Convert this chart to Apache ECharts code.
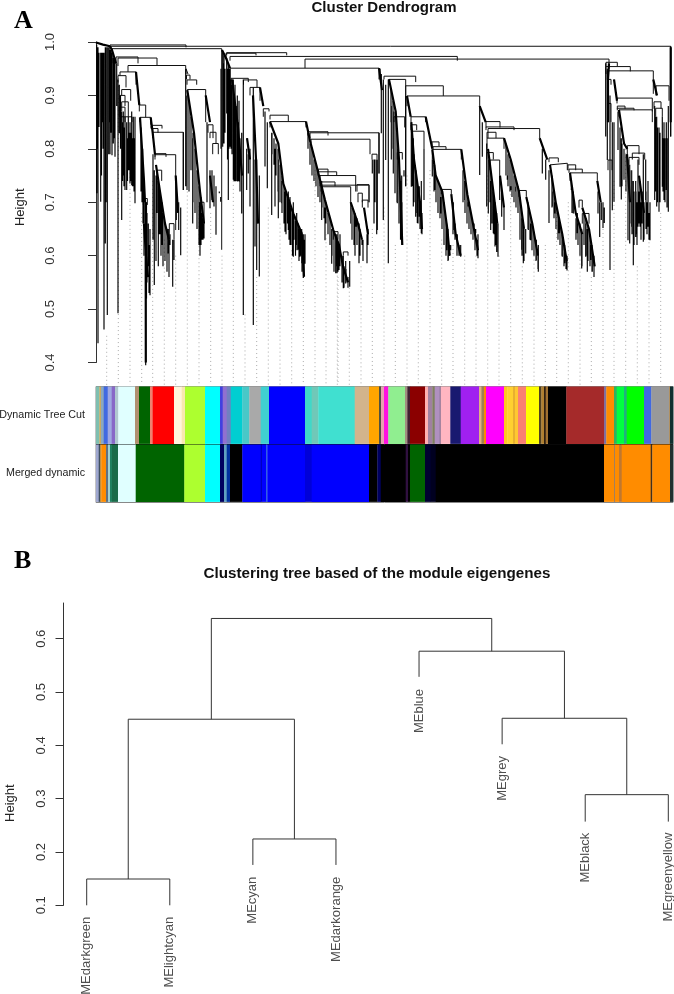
<!DOCTYPE html>
<html><head><meta charset="utf-8">
<style>html,body{margin:0;padding:0;background:#fff}#c{width:674px;height:994px}</style>
<script src="https://cdn.jsdelivr.net/npm/echarts@6/dist/echarts.min.js"></script>
</head><body><div id="c"></div>
<script>
const FONT = '"Liberation Sans", Arial, sans-serif';
// ---- Panel A: y axis ticks
const ticksA = [0.4,0.5,0.6,0.7,0.8,0.9,1.0];
const guideBottom = 0.358;
// gene-order position of each guide line and the height where it meets the tree
const guideX = [10.7,22.3,34,45.7,56.7,68.3,79.7,91.3,103,114.7,126,137.3,149,160.7,172.3,184,195.7,207.3,219,230,241.3,
 242,253.3,265,276.3,288,299.3,311,322.3,334,345.7,357,368.7,380,391.7,403,414.7,426.3,438,449.3,460.7,472.3,484,495.3,507,518,529.7,541.3,553,564.7];
const guideTop = [.45,.94,.80,.68,.74,.63,.60,.72,.70,.68,.60,.74,.49,.56,.69,.66,.61,.56,.76,.64,.57,
 .56,.54,.58,.65,.69,.62,.75,.64,.76,.63,.62,.60,.60,.75,.60,.73,.58,.60,.62,.68,.70,.60,.56,.65,.74,.80,.58,.64,.68];
// merges of the tree: [left, right, height, left leg end, right leg end]
const topBrackets = [
 [14,574.7,.992,.985,.823],[14,90,.9945,.99,.99],[16,125.7,.9875,.96,.611],[22,61,.970,.955,.956],[20,42,.972,.96,.96],
 [32,89.7,.956,.944,.95],[24,40,.944,.937,.92],[130.7,190.7,.980,.975,.975],[130,160,.979,.97,.975],[134,361.3,.973,.965,.965],
 [209,513,.968,.951,.95],[134,283,.951,.93,.93],[174,192.3,.863,.855,.851],[135,152.3,.932,.92,.925],[147.5,161,.929,.92,.915],[154,164,.915,.90,.89]
];
const clusterABrackets = [
 [22,30,.937,.925,.915],[25.7,34.7,.911,.90,.89],[24,29,.90,.89,.88],[25.7,32.3,.888,.87,.86],[23.3,29,.878,.86,.85],[24.7,36,.86,.85,.85],
 [43.3,49.7,.882,.87,.859],[44,54.7,.859,.85,.845],[47.3,51.3,.707,.695,.695],[55,66,.844,.838,.838],[56.7,62,.838,.83,.83],[56.7,87.3,.831,.82,.723],
 [59,70,.791,.785,.785],[59,79.7,.789,.78,.648],[61.3,65.7,.76,.75,.74],[73.3,78,.66,.63,.63],
 [90,92,.95,.94,.94],[90.5,94,.938,.93,.93],[91,100.7,.929,.92,.92],[91.3,109.7,.911,.90,.85],[112,117,.845,.83,.82],[114,120,.831,.82,.81],[116.7,122.3,.81,.79,.79],[104,108,.70,.66,.66]
];
const clusterCBrackets = [
 [167.3,173,.875,.86,.87],[174,210,.851,.84,.84],[212,232,.832,.825,.825],[214,283,.830,.82,.754],[215,274,.818,.81,.79],
 [222.3,232,.762,.75,.75],[222.3,240.7,.757,.75,.75],[224,259.7,.75,.74,.72],[224,239,.738,.73,.73],[225,273,.732,.72,.70],[226,254.7,.729,.715,.66],
 [261,273,.733,.72,.70],[262,266.3,.717,.70,.70],[266.3,272,.704,.69,.69],[276,281,.79,.78,.78],[237.3,242,.645,.63,.63],[247.3,252,.607,.60,.60]
];
const clusterDBrackets = [
 [288,319.7,.936,.93,.925],[293,309.7,.93,.92,.73],[298,308.7,.86,.85,.84],[301.3,306.3,.793,.78,.78],
 [309.7,347.3,.918,.90,.899],[311,383.7,.899,.88,.88],[315,329.7,.860,.85,.85],[315,320.7,.845,.835,.835],[316,328,.833,.82,.80],
 [336,343,.813,.805,.805],[337,350,.804,.799,.799],[336.3,365.3,.799,.78,.78],[345.3,355.3,.724,.715,.715],
 [390,404,.851,.84,.84],[390,418,.841,.835,.835],[392,443.7,.838,.82,.82],[391,400,.831,.82,.82],[391,408,.82,.80,.80],[391,397.3,.793,.78,.78],[394,403.7,.779,.76,.75],
 [423,430.3,.722,.71,.71],[453,462.3,.783,.775,.775],[454,471.3,.773,.77,.76],[472,479.7,.770,.76,.76],[473,486.3,.762,.755,.755],[474,501.3,.755,.74,.74],[483,486.3,.704,.69,.69],[486.3,493,.679,.66,.66]
];
const clusterGBrackets = [
 [510,521.3,.962,.955,.955],[510,534.3,.954,.94,.945],[511.3,557.3,.946,.93,.903],[512,515,.93,.92,.92],[512,515,.885,.85,.85],[512,516,.779,.76,.76],
 [521,556.3,.895,.885,.87],[521.3,529,.88,.875,.875],[521.3,538,.876,.872,.872],[523,556.3,.873,.86,.85],[531.3,543,.806,.79,.79],[536.3,548.7,.792,.78,.78],[533,543,.784,.77,.77],
 [560,573,.918,.90,.89],[558,565,.888,.875,.875],[559.7,566.3,.876,.86,.86]
];
// thick staircases of dense, near-identical merges: [position, height] along each one
const dense = [
 [[0,.999],[7,.995],[14,.992]],[[14,.992],[16,.985],[20,.96]],
 [[40,.944],[43.3,.882]],[[44,.859],[46,.80],[48,.74],[49,.70]],[[49.5,.70],[49.7,.60],[49.8,.40]],[[48,.66],[50,.60],[52,.56]],
 [[54.7,.859],[56.7,.83]],[[56.7,.83],[59,.789]],[[60,.77],[64,.72],[69,.66],[73,.63]],[[79.7,.75],[82,.68]],
 [[91.3,.91],[98,.83],[104,.72],[108,.66]],[[109.7,.90],[114,.85]],[[114,.75],[117,.70]],
 [[126,.985],[130,.97],[134,.951]],[[136,.93],[142,.84],[146,.75]],[[151,.82],[154,.78]],[[164,.915],[167.3,.88]],[[157,.90],[160,.78],[162,.66]],
 [[174,.851],[182.3,.81],[187.3,.735],[197.3,.679],[205.7,.642],[208,.561]],
 [[210,.851],[214,.815],[220.7,.767],[229,.704],[237.3,.648],[243,.62],[247,.58],[252,.55]],
 [[254.7,.70],[262,.66],[266,.63]],[[268,.69],[272,.64]],
 [[283,.951],[286,.91]],[[293,.93],[299.7,.87],[303,.78],[306.3,.62]],[[311,.899],[314.7,.86]],[[315.3,.85],[318,.78],[324,.70],[326,.65]],
 [[329.7,.86],[336.3,.80]],[[336.3,.799],[339.7,.75],[346.3,.72],[351.3,.65],[353.7,.60]],[[355.3,.715],[359.7,.64],[364.7,.60]],[[365.3,.799],[371.3,.715],[378,.65],[382,.61]],
 [[383.7,.88],[389.7,.85]],[[392,.80],[398,.71],[401.3,.66]],[[404,.75],[408,.69]],[[408,.82],[414.7,.78],[423,.72],[428,.65]],[[430.3,.71],[436.3,.66],[442,.60]],
 [[443.7,.82],[451.3,.78]],[[454,.77],[459.7,.70],[466.3,.64],[470.7,.59]],[[474,.755],[479.7,.68],[486.3,.64]],[[486.3,.69],[493,.65],[498.7,.58]],[[501.3,.74],[504.7,.70]],
 [[513,.96],[512,.93],[512,.85]],[[518,.93],[521,.89]],[[523,.873],[528,.81],[531.3,.80]],[[531,.79],[534,.70]],[[543,.75],[548,.68]],[[557.3,.93],[561,.90]],[[574.7,.99],[574.7,.85]]
];
// hanging branches: [position, top height, bottom height]
const hangFan1 = [[.7,.995,.717],[2,.99,.436],[3,.98,.841],[4.7,.98,.701],[6,.98,.85],[8,.98,.462],[9.3,.99,.623],[11.3,.99,.489],[12.7,.99,.79],[14,.985,.79],[16,.98,.788],[17.3,.97,.81],[19,.97,.785],[20.7,.96,.88],[22,.93,.492],
 [1,.99,.80],[5.5,.98,.75],[7,.98,.80],[10,.99,.70],[13,.99,.85],[15,.985,.83],[18,.97,.82]];
const hangA = [[23.3,.92,.829],[25.7,.87,.667],[27.3,.87,.75],[29,.86,.723],[30.7,.85,.723],[32.3,.86,.76],[34,.85,.735],[35.7,.87,.732],[37.3,.86,.73],[39,.86,.698],
 [24.5,.9,.80],[26.5,.85,.74],[28,.84,.73],[31.5,.82,.74],[33,.83,.76],[35,.83,.74],[36.5,.82,.73],[38,.82,.72],
 [46.7,.80,.717],[48,.74,.66],[49.7,.70,.395],[50.5,.70,.52],[52.3,.66,.58],[54,.65,.526],[57,.79,.63],[58.3,.76,.545],[60,.75,.59],[62.3,.74,.58],[64,.72,.64],[66,.70,.62],[69,.66,.59],[71,.65,.60],[72.3,.65,.604],[74,.64,.62],[76.7,.63,.542],[78,.63,.592],
 [45,.84,.72],[46,.80,.70],[47,.77,.66],[48,.74,.60],[51,.68,.55],[53,.62,.53],[61,.76,.68],[63,.73,.64],[65,.71,.60],[67,.68,.58],[69,.66,.59],[71,.645,.57],[73,.63,.56],
 [80.3,.73,.667],[82.7,.70,.648],[84.7,.69,.601],[87.3,.831,.723],[89.7,.95,.73],[91,.90,.723],[93,.86,.72],[96.7,.82,.66],[99,.78,.69],[101,.74,.65],[104,.70,.60],[106,.68,.63],[108,.66,.632],
 [93,.89,.82],[95,.86,.76],[97,.83,.70],[99,.80,.68],[101,.76,.65],[103,.73,.62],[105,.71,.62],[107,.67,.63],
 [111,.85,.70],[114,.76,.689],[116,.76,.704],[118,.75,.692],[120,.73,.639],[123.3,.72,.717],[124.7,.71,.701]];
const hangC = [[126.7,.98,.804],[128,.975,.81],[130.7,.97,.866],[132.3,.96,.704],[134,.95,.804],[137.3,.93,.742],[139,.92,.739],[141.3,.90,.739],[143,.89,.739],[145.7,.83,.679],[147.3,.93,.489],[150.7,.80,.723],[152.3,.79,.754],[154,.80,.692],
 [125,.95,.80],[127.5,.96,.81],[129,.95,.83],[131.5,.95,.78],[133,.95,.80],[135,.93,.80],[136,.92,.79],[138,.90,.74],[140,.88,.74],[142,.85,.74],[144,.82,.72],
 [157.3,.915,.47],[159,.78,.617],[160.7,.78,.573],[163.3,.75,.561],[169,.87,.767],[171.3,.85,.726],[175.7,.83,.676],[179,.80,.692],[182.3,.78,.67],[185.7,.74,.698],[189,.72,.645],[192.3,.72,.648],[194,.71,.62],[197.3,.70,.598],[200.7,.68,.62],[202.3,.66,.611],[204,.65,.598],[205.7,.65,.586],[207.3,.64,.558],[209,.64,.585],
 [176,.83,.79],[178,.82,.77],[180,.81,.75],[182,.80,.72],[184,.77,.70],[186,.75,.68],[188,.73,.66],[190,.72,.64],[191.5,.71,.66],[193,.70,.63],[195,.69,.62],[196.5,.68,.60],[198,.675,.63],[199.5,.665,.60],[201,.66,.61],[203,.65,.59],[204.5,.645,.60],[206,.64,.57],[208,.63,.56],
 [212,.83,.80],[214,.81,.77],[216,.80,.75],[218,.78,.74],[220,.77,.73],[222,.76,.71],[224,.74,.70],[226,.73,.69],[228,.71,.67],[230,.70,.66],[232,.68,.64],[234,.67,.62],[236,.65,.60],[238,.645,.58],[240,.635,.58],[242,.625,.57],[244,.62,.58],[246,.60,.55],[248,.58,.54],[250,.575,.55],[252,.56,.54],
 [225.7,.74,.667],[229,.69,.629],[232,.68,.65],[235.7,.65,.585],[238,.645,.57],[241,.64,.567],[244,.64,.592],[239.7,.64,.567],[243,.62,.573],[247.3,.60,.539],[249.7,.59,.548],[253.7,.59,.542],
 [256,.69,.63],[259,.68,.60],[261,.67,.62],[264,.65,.60],[267,.63,.59],
 [258,.68,.62],[260,.67,.654],[263,.66,.586],[266,.63,.62],[271,.64,.586],[272,.65,.62],[276.3,.78,.754],[278,.78,.66],[279,.78,.70],[280.7,.78,.64],[281.3,.78,.648],[283,.83,.754]];
const hangD = [[284,.95,.93],[285.3,.94,.829],[287.3,.93,.667],[289.7,.92,.779],[292.3,.93,.586],[295.3,.88,.78],[297.3,.87,.754],[299,.80,.717],[301.3,.80,.698],[303,.75,.667],[305.7,.75,.629],[308,.76,.748],[309.7,.90,.73],
 [295,.91,.85],[297,.89,.80],[299,.87,.74],[301,.83,.70],[303,.78,.66],[304.5,.74,.63],[306,.70,.62],
 [315.3,.85,.729],[317.3,.82,.692],[319.7,.76,.673],[321.3,.74,.661],[323.3,.73,.673],[325.3,.74,.642],[328,.80,.704],
 [316.5,.82,.73],[318,.79,.70],[320,.76,.68],[322,.73,.66],[324,.70,.65],[326,.68,.64],
 [336.3,.78,.748],[338.7,.77,.723],[344.7,.71,.679],[348,.69,.629],[350.7,.66,.61],[352.3,.64,.592],[354.7,.62,.61],[357.3,.70,.648],[361.3,.64,.629],[364.7,.62,.598],
 [338,.77,.72],[340,.75,.70],[342,.74,.68],[344,.73,.67],[346,.72,.65],[348,.70,.62],[350,.67,.60],[352,.65,.59],[353.5,.62,.60],[357,.69,.64],[359,.66,.63],[361,.64,.60],[363,.62,.60],
 [367,.76,.70],[369,.74,.68],[371,.72,.66],[373,.70,.65],[375,.68,.64],[377,.66,.63],[379,.65,.61],[381,.63,.60],
 [368.7,.74,.704],[372.3,.70,.692],[375.3,.68,.673],[378,.66,.654],[379.7,.65,.642],[382,.64,.595]];
const hangE = [[383.7,.88,.751],[386.3,.85,.785],[390.7,.81,.692],[392.3,.78,.679],[394.7,.74,.648],[397.3,.72,.642],[399,.70,.617],[400.7,.68,.607],[402,.66,.598],[403.7,.75,.704],[405.7,.72,.673],[408,.69,.648],
 [394,.77,.70],[396,.74,.66],[398,.71,.64],[400,.68,.62],
 [411.3,.75,.742],[414.7,.73,.723],[419.7,.72,.729],[424,.70,.642],[425.7,.67,.611],[427.3,.66,.586],[429.7,.65,.604],[432.3,.69,.648],[434.7,.66,.629],[438,.64,.604],[440.3,.63,.592],[442.3,.62,.57],
 [410,.81,.75],[412,.79,.73],[414,.78,.72],[416,.77,.71],[418,.75,.70],[420,.74,.69],[422,.73,.68],[424,.71,.63],[426,.68,.60],[428,.65,.59],[432,.70,.65],[434,.68,.63],[436,.66,.61],[438,.645,.60],[440,.63,.59],[442,.61,.575],
 [446.3,.80,.754],[449.7,.78,.742],[453,.76,.661],[456.3,.72,.692],[458.7,.70,.679],[463,.67,.642],[466.3,.63,.598],[468.7,.62,.586],[471,.60,.572],
 [456,.75,.69],[458,.72,.67],[460,.70,.65],[462,.68,.63],[464,.66,.62],[466,.64,.60],[468,.62,.58],[470,.60,.575],
 [475.3,.74,.723],[477.3,.72,.679],[481.3,.68,.642],[484,.66,.611],[485.7,.65,.576],[489.7,.66,.598],[491.3,.65,.57],[494.7,.62,.592],[496.3,.60,.57],[498,.60,.56],
 [476,.73,.68],[480,.67,.63],[482,.66,.62],[484,.65,.60],[486,.64,.58],[488,.68,.62],[490,.67,.60],[492,.655,.59],[494,.64,.58],[496,.62,.57],
 [502,.72,.679],[503.7,.70,.635],[505.3,.70,.667],[507,.70,.652],[508.3,.69,.661]];
const hangG = [[509.7,.96,.823],[511.3,.95,.779],[514,.90,.573],[516.3,.85,.685],[518,.85,.701],[522,.87,.798],[524,.84,.729],[525.3,.82,.705],[528,.80,.742],[532,.78,.629],[533.7,.77,.623],[535.7,.76,.654],[537.3,.74,.582],[539.7,.74,.635],[542,.78,.654],[544,.74,.654],[547.3,.79,.626],[549.7,.78,.704],[552,.74,.654],[554,.70,.629],
 [526,.81,.73],[530,.79,.72],[534,.76,.66],[536,.74,.64],[538,.72,.62],[540,.72,.64],[541,.70,.62],[543,.72,.66],[545,.70,.63],[546,.72,.66],[548,.70,.63],[550,.72,.65],[551,.70,.64],[553,.68,.63],
 [558.7,.88,.704],[560.7,.86,.692],[563,.84,.682],[566.3,.86,.729],[568,.85,.704],[570.3,.85,.723],[572.3,.88,.682],[574.7,.992,.823],
 [559.5,.86,.72],[561.5,.84,.70],[564,.83,.70],[567,.82,.72],[569,.82,.70],[571,.82,.69]];
// colour strips: [start, end, colour]
const stripRows = ['Dynamic Tree Cut','Merged dynamic'];
const dynamicBlocks = [[0,3.3,'#7fbfb0'],[3.3,5,'#c8a860'],[5,7.7,'#8aa8c0'],[7.7,11.7,'#4169e1'],[11.7,15.7,'#a0a8e0'],[15.7,19,'#8868c8'],[19,22.3,'#b0c8d0'],[22.3,39,'#e0ffff'],[39,43,'#b09070'],[43,54,'#006400'],[54,56.7,'#f08070'],[56.7,78,'#ff0000'],[78,85.7,'#fff5dc'],[85.7,89,'#f8e8b0'],[89,109,'#adff2f'],[109,124,'#00ffff'],[124,126.7,'#4040e0'],[126.7,130.7,'#9070d0'],[130.7,134.7,'#7080c0'],[134.7,146.3,'#00ced1'],[146.3,153.3,'#48c8c8'],[153.3,164.7,'#a9a9a9'],[164.7,173,'#40d0d0'],[173,209,'#0000ff'],[209,215.7,'#40d8c8'],[215.7,222.3,'#70c8b8'],[222.3,258.7,'#40e0d0'],[258.7,273,'#d2b48c'],[273,283,'#ffa500'],[283,285,'#505040'],[285,288,'#e8a0b0'],[288,292.3,'#ff10e0'],[292.3,309,'#90ee90'],[309,311.3,'#a09080'],[311.3,314,'#402030'],[314,329,'#8b0000'],[329,332,'#ffb0b0'],[332,336.3,'#a080a0'],[336.3,338.7,'#808060'],[338.7,343.7,'#b090c0'],[343.7,344.7,'#807090'],[344.7,354.3,'#ffb6c1'],[354.3,364.7,'#191970'],[364.7,383,'#a020f0'],[383,385.3,'#e0b080'],[385.3,388,'#a08050'],[388,390,'#ff8800'],[390,408,'#ff00ff'],[408,411.3,'#ffc820'],[411.3,417,'#ffd030'],[417,419,'#e8b030'],[419,422,'#ffc830'],[422,430,'#fa8072'],[430,443,'#ffff00'],[443,445.3,'#504020'],[445.3,448,'#b08030'],[448,449.7,'#302010'],[449.7,452,'#a07030'],[452,470.3,'#000000'],[470.3,508,'#a52a2a'],[508,510.3,'#8070a0'],[510.3,518,'#ff8c00'],[518,520.7,'#30b060'],[520.7,528,'#00ff40'],[528,530.7,'#20b080'],[530.7,548,'#00ff00'],[548,555.3,'#4169e1'],[555.3,573,'#999999'],[573,574,'#b09060'],[574,577,'#103030']];
const mergedBlocks = [[0,2.7,'#a0a8d0'],[2.7,4,'#405060'],[4,5.3,'#c09040'],[5.3,10,'#ff8c00'],[10,12,'#607080'],[12,14,'#a0d0d0'],[14,16,'#208060'],[16,22,'#1a6b4a'],[22,39.7,'#e0ffff'],[39.7,88.3,'#006400'],[88.3,109,'#adff2f'],[109,124,'#00ffff'],[124,128,'#000060'],[128,130.7,'#60a0c0'],[130.7,134,'#0030a0'],[134,146.3,'#000000'],[146.3,164.7,'#0000ff'],[164.7,166,'#0000c0'],[166,170,'#0000ff'],[170,171.3,'#3060e0'],[171.3,209,'#0000ff'],[209,215.7,'#0000d8'],[215.7,273,'#0000ff'],[273,281.3,'#000000'],[281.3,284.7,'#000060'],[284.7,309.7,'#000000'],[309.7,312,'#301040'],[312,314,'#000000'],[314,329,'#006400'],[329,334.7,'#000030'],[334.7,339.7,'#000020'],[339.7,508,'#000000'],[508,518,'#ff8c00'],[518,519,'#a08060'],[519,523,'#ff8c00'],[523,525.7,'#c07830'],[525.7,554.7,'#ff8c00'],[554.7,556.3,'#403020'],[556.3,574,'#ff8c00'],[574,577,'#203030']];
// ---- Panel B
const ticksB = [0.1,0.2,0.3,0.4,0.5,0.6];
const leafNames = ['MEdarkgreen','MElightcyan','MEcyan','MEdarkorange','MEblue','MEgrey','MEblack','MEgreenyellow'];
const leafStemEnd = [0.1,0.1,0.1757,0.1757,0.5285,0.402,0.257,0.257];
const leafLabelTop = [0.0786,0.0786,0.1537,0.1537,0.5058,0.3801,0.2363,0.2363];
// hclust-style merges: negative = leaf number, positive = earlier merge
const mergesB = [[-1,-2,0.1493],[-3,-4,0.2244],[-7,-8,0.3075],[1,2,0.449],[-6,3,0.4508],[-5,5,0.5766],[4,6,0.638]];

function bracketPath(list){const o=[];list.forEach(b=>{o.push([b[0],b[3]],[b[0],b[2]],[b[1],b[2]],[b[1],b[4]],[null,null]);});return o;}
function hangPath(list){const o=[];list.forEach(w=>{o.push([w[0],w[1]],[w[0],w[2]],[null,null]);});return o;}
function densePath(list){const o=[];list.forEach(l=>{l.forEach(p=>o.push(p));o.push([null,null]);});return o;}
const guidePath=[];guideX.forEach((x,i)=>guidePath.push([x,guideTop[i]],[x,guideBottom],[null,null]));
function treeB(){const pos=[],o=[];
 const get=id=>id<0?{x:-id,h:leafStemEnd[-id-1]}:pos[id-1];
 mergesB.forEach(m=>{const a=get(m[0]),b=get(m[1]);o.push([a.x,a.h],[a.x,m[2]],[b.x,m[2]],[b.x,b.h],[null,null]);pos.push({x:(a.x+b.x)/2,h:m[2]});});
 return o;}
const allBrackets=[].concat(topBrackets,clusterABrackets,clusterCBrackets,clusterDBrackets,clusterGBrackets);
const allHang=[].concat(hangFan1,hangA,hangC,hangD,hangE,hangG);
const lineBase={type:'line',showSymbol:false,symbol:'none',connectNulls:false,silent:true,animation:false,clip:false};
const stripData=[].concat(dynamicBlocks.map(b=>({value:[b[0],b[1],0],c:b[2]})),mergedBlocks.map(b=>({value:[b[0],b[1],1],c:b[2]})));
const AX='#333';
const yCommon={type:'value',axisLine:{show:true,lineStyle:{color:AX,width:1}},splitLine:{show:false},
 nameLocation:'middle',nameRotate:90};
const option={
 animation:false,backgroundColor:'#fff',
 title:[
  {text:'Cluster Dendrogram',left:379,top:-4.5,textAlign:'center',textStyle:{fontFamily:FONT,fontWeight:'bold',fontSize:15,color:'#111'}},
  {text:'Clustering tree based of the module eigengenes',left:372,top:561.5,textAlign:'center',textStyle:{fontFamily:FONT,fontWeight:'bold',fontSize:15.2,color:'#111'}},
  {text:'A',left:9,top:3,textStyle:{fontFamily:'"Liberation Serif",serif',fontSize:26,fontWeight:'bold',color:'#000'}},
  {text:'B',left:9,top:543,textStyle:{fontFamily:'"Liberation Serif",serif',fontSize:26,fontWeight:'bold',color:'#000'}}
 ],
 grid:[
  {left:96,top:42,width:577,height:320.5,outerBoundsMode:'none'},
  {left:96,top:386.5,width:577,height:116,show:true,borderColor:'#888',borderWidth:1,backgroundColor:'transparent',outerBoundsMode:'none'},
  {left:86.7,top:603,width:581.6,height:302.3,outerBoundsMode:'none'}
 ],
 xAxis:[
  {gridIndex:0,type:'value',min:0,max:577,show:false},
  {gridIndex:1,type:'value',min:0,max:577,show:false},
  {gridIndex:2,type:'value',min:1,max:8,show:false}
 ],
 yAxis:[
  Object.assign({},yCommon,{gridIndex:0,offset:23.3,min:0.4,max:1,interval:0.1,name:'Height',nameGap:46,
   nameTextStyle:{fontFamily:FONT,fontSize:13,color:'#222',padding:[0,10,0,0]},
   axisTick:{show:true,length:8,customValues:ticksA,lineStyle:{color:AX}},
   axisLabel:{customValues:ticksA,rotate:90,margin:16,fontFamily:FONT,fontSize:13,color:'#333',formatter:v=>v.toFixed(1)}}),
  {gridIndex:1,type:'category',inverse:true,data:stripRows,axisLine:{show:false},axisTick:{show:false},
   splitLine:{show:true,showMinLine:false,showMaxLine:false,lineStyle:{color:'#111',width:1}},
   axisLabel:{margin:11,fontFamily:FONT,fontSize:10.7,color:'#222',interval:0}},
  Object.assign({},yCommon,{gridIndex:2,offset:23.2,min:0.1,max:0.667,name:'Height',nameGap:47,
   nameTextStyle:{fontFamily:FONT,fontSize:13,color:'#222',padding:[0,98,0,0]},
   axisTick:{show:true,length:8,customValues:ticksB,lineStyle:{color:AX}},
   axisLabel:{customValues:ticksB,rotate:90,margin:16,fontFamily:FONT,fontSize:13,color:'#333',formatter:v=>v.toFixed(1)}})
 ],
 series:[
  Object.assign({},lineBase,{name:'guides',xAxisIndex:0,yAxisIndex:0,z:1,data:guidePath,lineStyle:{color:'#aaa',width:1,type:[1,3]}}),
  Object.assign({},lineBase,{name:'merges',xAxisIndex:0,yAxisIndex:0,z:3,data:bracketPath(allBrackets),lineStyle:{color:'#111',width:1}}),
  Object.assign({},lineBase,{name:'hanging',xAxisIndex:0,yAxisIndex:0,z:3,data:hangPath(allHang),lineStyle:{color:'#000',width:1.15}}),
  Object.assign({},lineBase,{name:'dense',xAxisIndex:0,yAxisIndex:0,z:4,data:densePath(dense),lineStyle:{color:'#000',width:2.2}}),
  {type:'custom',name:'modules',xAxisIndex:1,yAxisIndex:1,silent:true,animation:false,z:2,data:stripData,
   encode:{x:[0,1],y:2},
   renderItem:function(p,api){
    const row=stripData[p.dataIndex].value[2];
    const a=api.coord([api.value(0),row]),b=api.coord([api.value(1),row]);
    const band=api.size([0,1])[1];
    return {type:'rect',shape:{x:a[0],y:a[1]-band/2,width:b[0]-a[0]+0.3,height:band-0.6},style:{fill:stripData[p.dataIndex].c}};
   }},
  Object.assign({},lineBase,{name:'eigengene tree',xAxisIndex:2,yAxisIndex:2,z:3,data:treeB(),lineStyle:{color:'#333',width:1}}),
  {type:'scatter',name:'leaves',xAxisIndex:2,yAxisIndex:2,silent:true,animation:false,clip:false,symbolSize:1,itemStyle:{color:'transparent'},
   data:leafNames.map((n,i)=>({name:n,value:[i+1,leafLabelTop[i]]})),
   label:{show:true,formatter:'{b}',position:'inside',rotate:90,align:'right',verticalAlign:'middle',fontFamily:FONT,fontSize:13,color:'#222'}}
 ]
};
const chart=echarts.init(document.getElementById('c'),null,{renderer:'canvas'});
chart.setOption(option);
</script></body></html>
